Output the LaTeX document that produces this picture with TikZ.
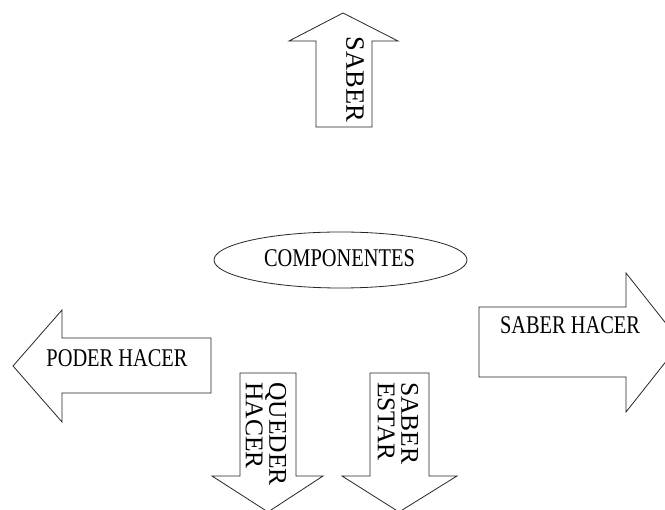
\documentclass[tikz,border=0pt]{standalone}
\usepackage{fontspec}
\setmainfont{Liberation Serif}
\usetikzlibrary{shapes.geometric}

\tikzset{
  blockarrow/.style={draw=black!85, fill=white, line width=0.8pt, line join=miter},
  txt/.style={font=\fontsize{25.5}{23.5}\selectfont, inner sep=0pt},
  flattxt/.style={txt, xscale=0.8},
  verttxt/.style={txt, rotate=-90, align=left, anchor=west}
}

\begin{document}
\begin{tikzpicture}[x=1pt, y=-1pt]
  \clip (0,0) rectangle (665,510);
  \fill[white] (0,0) rectangle (665,510);

  % up arrow
  \draw[blockarrow] (316,127) -- (316,41) -- (289,41) -- (343,13)
    -- (398,41) -- (372,41) -- (372,127) -- cycle;
  \node[txt, font=\fontsize{26.5}{24}\selectfont, rotate=-90] (saber) at (355,79.5) {SABER};

  % centre
  \node[draw=black!85, line width=0.8pt, ellipse, minimum width=253pt,
    minimum height=56pt, inner sep=0pt] (comp) at (340.5,260) {};
  \node[flattxt] (comptxt) at (339.5,258.5) {COMPONENTES};

  % left arrow
  \draw[blockarrow] (211,338) -- (62,338) -- (62,310) -- (13,366)
    -- (62,422) -- (62,393) -- (211,393) -- cycle;
  \node[flattxt] (poder) at (117,358.5) {PODER HACER};

  % right arrow
  \draw[blockarrow] (479,307) -- (626,307) -- (626,273) -- (681,342.5)
    -- (626,412) -- (626,377) -- (479,377) -- cycle;
  \node[flattxt] (hacer) at (570,325) {SABER HACER};

  % down arrows
  \draw[blockarrow] (240,373) -- (296,373) -- (296,476) -- (323,476)
    -- (268,512) -- (212,476) -- (240,476) -- cycle;
  \node[verttxt] (queder) at (266,382) {QUEDER\\HACER};

  \draw[blockarrow] (370,373) -- (429,373) -- (429,476) -- (457,476)
    -- (399,512) -- (342,476) -- (370,476) -- cycle;
  \node[verttxt] (estar) at (398,382) {SABER\\ESTAR};
\end{tikzpicture}
\end{document}
